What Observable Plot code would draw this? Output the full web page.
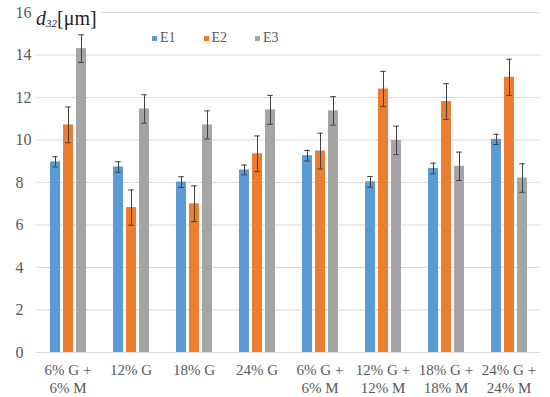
<!DOCTYPE html>
<html>
<head>
<meta charset="utf-8">
<script src="https://cdn.jsdelivr.net/npm/d3@7"></script>
<script src="https://cdn.jsdelivr.net/npm/@observablehq/plot@0.6"></script>
<style>
  html, body { margin: 0; padding: 0; background: #fff; }
  #wrap { position: relative; width: 550px; height: 397px; font-family: 'Liberation Serif', 'Times New Roman', Times, 'DejaVu Serif', serif; }
  #wrap svg text { font-family: 'Liberation Serif', 'Times New Roman', Times, 'DejaVu Serif', serif; }
  #ylabel { position: absolute; left: 35px; top: 8px; font-size: 20px; line-height: 1; color: #262626; background: #fff; padding: 0 4px 2px 1px; white-space: nowrap; }
  #ylabel sub { font-size: 11px; vertical-align: -2px; }
  #legend { position: absolute; left: 152px; top: 30px; font-size: 14px; color: #595959; display: flex; gap: 0; }
  #legend .item { display: flex; align-items: center; width: 51.5px; }
  #legend .sw { width: 5px; height: 5px; margin-right: 3px; }
</style>
</head>
<body>
<div id="wrap"></div>
<script>
const labels = ["6% G +\n6% M", "12% G", "18% G", "24% G", "6% G +\n6% M", "12% G +\n12% M", "18% G +\n18% M", "24% G +\n24% M"];
const series = ["E1", "E2", "E3"];
const colors = ["#5B9BD5", "#ED7D31", "#A5A5A5"];
const e1 = [8.97, 8.73, 8.02, 8.59, 9.26, 8.03, 8.66, 10.03];
const e2 = [10.71, 6.82, 7.00, 9.35, 9.48, 12.40, 11.81, 12.95];
const e3 = [14.30, 11.46, 10.71, 11.42, 11.37, 9.98, 8.76, 8.21];
const err1 = [0.24, 0.25, 0.25, 0.23, 0.25, 0.25, 0.25, 0.24];
const err2 = [0.84, 0.83, 0.84, 0.84, 0.84, 0.83, 0.84, 0.85];
const err3 = [0.65, 0.67, 0.66, 0.68, 0.67, 0.67, 0.67, 0.67];
const yTicks = [0, 2, 4, 6, 8, 10, 12, 14, 16];

const vals = [e1, e2, e3];
const errs = [err1, err2, err3];
const data = [];
labels.forEach((_, i) => series.forEach((s, j) => data.push({cat: i, series: s, value: vals[j][i], err: errs[j][i]})));

const chart = Plot.plot({
  width: 550,
  height: 397,
  marginLeft: 35,
  marginRight: 9,
  marginTop: 12,
  marginBottom: 45,
  style: {fontFamily: "'Liberation Serif', 'Times New Roman', Times, 'DejaVu Serif', serif", background: "#fff"},
  fx: {domain: d3.range(labels.length), paddingInner: 0, paddingOuter: 0},
  x: {domain: series, paddingInner: 0.24, paddingOuter: 0.91, axis: null},
  y: {domain: [0, 16]},
  color: {domain: series, range: colors},
  marks: [
    Plot.gridY(yTicks, {stroke: "#d9d9d9", strokeOpacity: 1}),
    Plot.barY(data, {fx: "cat", x: "series", y: "value", fill: "series"}),
    Plot.ruleX(data, {fx: "cat", x: "series", y1: d => d.value - d.err, y2: d => d.value + d.err, stroke: "#404040", strokeWidth: 1}),
    Plot.tickY(data, {fx: "cat", x: "series", y: d => d.value - d.err, stroke: "#404040", insetLeft: 2.2, insetRight: 2.2}),
    Plot.tickY(data, {fx: "cat", x: "series", y: d => d.value + d.err, stroke: "#404040", insetLeft: 2.2, insetRight: 2.2}),
    Plot.axisY({ticks: yTicks, tickSize: 0, tickPadding: 21, textAnchor: "start", fontSize: 16, color: "#595959", label: null}),
    Plot.axisFx({anchor: "bottom", tickSize: 0, tickPadding: 10, fontSize: 15, lineHeight: 1.2, color: "#595959", label: null, tickFormat: i => labels[i]})
  ]
});

const wrap = document.getElementById("wrap");
wrap.appendChild(chart);

const yl = document.createElement("div");
yl.id = "ylabel";
yl.innerHTML = "<i>d</i><sub><i>32</i></sub>[μm]";
wrap.appendChild(yl);

const lg = document.createElement("div");
lg.id = "legend";
series.forEach((s, j) => {
  const it = document.createElement("div");
  it.className = "item";
  const sw = document.createElement("span");
  sw.className = "sw";
  sw.style.background = colors[j];
  const t = document.createElement("span");
  t.textContent = s;
  it.appendChild(sw);
  it.appendChild(t);
  lg.appendChild(it);
});
wrap.appendChild(lg);
</script>
</body>
</html>
